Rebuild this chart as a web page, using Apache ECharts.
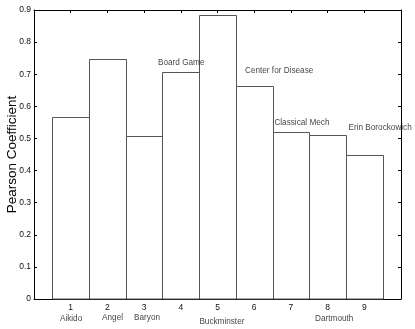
<!DOCTYPE html>
<html>
<head>
<meta charset="utf-8">
<script src="https://cdn.jsdelivr.net/npm/echarts@6/dist/echarts.min.js"></script>
<style>
    html, body { margin: 0; padding: 0; background: #fff; }
    #chart { width: 415px; height: 329px; }
</style>
</head>
<body>
<div id="chart"></div>
<script>
// Bar positions and Pearson coefficients
const positions = [1, 2, 3, 4, 5, 6, 7, 8, 9];
const coeff = [0.566, 0.746, 0.507, 0.706, 0.883, 0.662, 0.521, 0.510, 0.449];

// Text annotations (one per bar)
const names = ['Aikido', 'Angel', 'Baryon', 'Board Game', 'Buckminster',
    'Center for Disease', 'Classical Mech', 'Dartmouth', 'Erin Borockowich'];
const nameX = [1.01, 2.14, 3.08, 3.38, 5.12, 5.75, 6.55, 8.18, 8.57];
const nameY = [-0.063, -0.057, -0.058, 0.736, -0.071, 0.712, 0.548, -0.062, 0.533];
const nameAlign = ['center', 'center', 'center', 'left', 'center', 'left', 'left', 'center', 'left'];

const FONT = 'Liberation Sans, Arial, sans-serif';

const chart = echarts.init(document.getElementById('chart'), null, { renderer: 'canvas' });

const axisLine = { show: true, onZero: false, lineStyle: { color: '#000', width: 1 } };
const innerTick = { show: true, inside: true, length: 3, lineStyle: { color: '#000' } };

const option = {
    animation: false,
    backgroundColor: '#fff',
    grid: {
        left: 34, right: 14, top: 10, bottom: 30,
        containLabel: false,
        outerBoundsMode: 'none'
    },
    xAxis: [
        {
            type: 'value', min: 0, max: 10, interval: 1,
            axisLine: axisLine,
            axisTick: { show: false },
            splitLine: { show: false },
            axisLabel: {
                fontFamily: FONT, fontSize: 8.5, color: '#111', margin: 4,
                formatter: v => (v >= 1 && v <= 9) ? String(v) : ''
            }
        },
        {
            type: 'value', position: 'top', min: 0, max: 10, interval: 1,
            axisLine: axisLine,
            axisTick: innerTick,
            splitLine: { show: false },
            axisLabel: { show: false }
        }
    ],
    yAxis: [
        {
            type: 'value', min: 0, max: 0.9, interval: 0.1,
            name: 'Pearson Coefficient',
            nameLocation: 'middle', nameGap: 15, nameRotate: 90,
            nameMoveOverlap: false,
            nameTextStyle: { fontFamily: FONT, fontSize: 13.5, color: '#000' },
            axisLine: axisLine,
            axisTick: innerTick,
            splitLine: { show: false },
            axisLabel: {
                fontFamily: FONT, fontSize: 8.5, color: '#111', margin: 3,
                formatter: v => v === 0 ? '0' : v.toFixed(1)
            }
        },
        {
            type: 'value', position: 'right', min: 0, max: 0.9, interval: 0.1,
            axisLine: axisLine,
            axisTick: innerTick,
            splitLine: { show: false },
            axisLabel: { show: false }
        }
    ],
    series: [
        {
            type: 'custom',
            xAxisIndex: 0, yAxisIndex: 0,
            data: positions.map((p, i) => [p, coeff[i]]),
            renderItem: function (params, api) {
                const p0 = api.coord([api.value(0) - 0.5, api.value(1)]);
                const p1 = api.coord([api.value(0) + 0.5, 0]);
                const x0 = Math.round(p0[0]) + 0.5;
                const x1 = Math.round(p1[0]) + 0.5;
                const y0 = Math.round(p0[1]) + 0.5;
                const y1 = Math.round(p1[1]);
                return {
                    type: 'rect',
                    shape: { x: x0, y: y0, width: x1 - x0, height: y1 - y0 },
                    style: { fill: '#fff', stroke: '#555', lineWidth: 1 }
                };
            },
            z: 1
        },
        {
            type: 'scatter',
            xAxisIndex: 0, yAxisIndex: 0,
            symbolSize: 0,
            clip: false,
            silent: true,
            data: names.map((n, i) => ({
                value: [nameX[i], nameY[i]],
                label: {
                    show: true,
                    position: 'inside',
                    formatter: n,
                    align: nameAlign[i],
                    verticalAlign: 'middle',
                    fontFamily: FONT,
                    fontSize: 8.2,
                    color: '#111'
                }
            })),
            z: 5
        }
    ]
};

chart.setOption(option);
</script>
</body>
</html>
